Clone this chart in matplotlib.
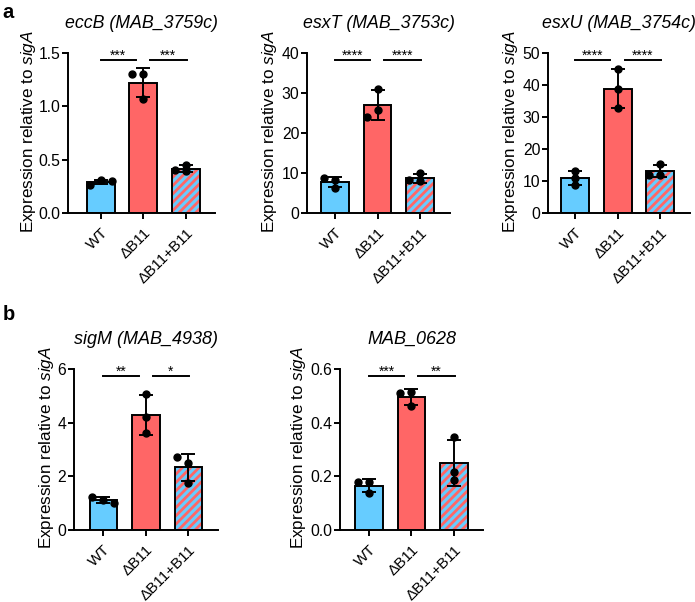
import matplotlib
matplotlib.use("Agg")
import matplotlib.pyplot as plt
import numpy as np

plt.rcParams["font.family"] = ["Liberation Sans", "DejaVu Sans"]
plt.rcParams["mathtext.fontset"] = "custom"
plt.rcParams["mathtext.it"] = "Liberation Sans:italic"
plt.rcParams["mathtext.rm"] = "Liberation Sans"
plt.rcParams["hatch.linewidth"] = 2.0

groups = ["WT", "ΔB11", "ΔB11+B11"]

# replicate values per gene (WT, ΔB11, ΔB11+B11)
eccb_wt = [0.31, 0.265, 0.296]
eccb_ko = [1.30, 1.065, 1.30]
eccb_comp = [0.39, 0.45, 0.40]

esxt_wt = [8.3, 6.2, 8.7]
esxt_ko = [25.7, 24.1, 31.1]
esxt_comp = [7.9, 10.0, 8.3]

esxu_wt = [10.9, 13.2, 8.7]
esxu_ko = [38.9, 44.9, 32.9]
esxu_comp = [11.9, 15.2, 11.9]

sigm_wt = [1.12, 1.22, 1.02]
sigm_ko = [4.20, 5.06, 3.60]
sigm_comp = [2.51, 1.76, 2.73]

mab0628_wt = [0.137, 0.18, 0.18]
mab0628_ko = [0.462, 0.516, 0.509]
mab0628_comp = [0.217, 0.348, 0.186]

titles = ["eccB (MAB_3759c)", "esxT (MAB_3753c)", "esxU (MAB_3754c)",
          "sigM (MAB_4938)", "MAB_0628"]
ymaxes = [1.5, 40, 50, 6, 0.6]
ysteps = [0.5, 10, 10, 2, 0.2]
tick_fmt = ["{:.1f}", "{:.0f}", "{:.0f}", "{:.0f}", "{:.1f}"]
stars = [("***", "***"), ("****", "****"), ("****", "****"), ("**", "*"), ("***", "**")]

panels = [
    (eccb_wt, eccb_ko, eccb_comp),
    (esxt_wt, esxt_ko, esxt_comp),
    (esxu_wt, esxu_ko, esxu_comp),
    (sigm_wt, sigm_ko, sigm_comp),
    (mab0628_wt, mab0628_ko, mab0628_comp),
]

BLUE = "#66CCFF"
RED = "#FF6666"
W, H = 695, 602

# axes boxes in pixels: left, right, top, bottom, xlim-left, ylabel gap
boxes = [
    (68, 215, 53, 213, -0.77, 29.5),
    (307, 450, 53, 213, -0.66, 28),
    (548, 690, 53, 213, -0.64, 28),
    (74, 218, 369, 530, -0.69, 18),
    (340, 483, 369, 530, -0.68, 32),
]


def swarm(values, ymax, step=0.26, gap=0.04):
    offsets = []
    for i, v in enumerate(values):
        for cand in (0, -step, step, -2 * step, 2 * step):
            clash = any(abs(v - values[j]) / ymax < gap and abs(cand - offsets[j]) < 1e-9
                        for j in range(i))
            if not clash:
                offsets.append(cand)
                break
    return np.array(offsets)


fig = plt.figure(figsize=(W / 100, H / 100), dpi=100)

for k, (data, box) in enumerate(zip(panels, boxes)):
    left, right, top, bottom, xl, lgap = box
    ax = fig.add_axes([left / W, 1 - bottom / H, (right - left) / W, (bottom - top) / H])
    x = np.arange(3)
    means = [np.mean(d) for d in data]
    sds = [np.std(d, ddof=1) for d in data]
    ymax = ymaxes[k]

    ax.bar(x[:2], means[:2], width=0.65, color=[BLUE, RED], edgecolor="black",
           linewidth=1.4, zorder=2)
    ax.bar(x[2], means[2], width=0.65, color=BLUE, edgecolor=RED, hatch="////",
           linewidth=0, zorder=2)
    ax.bar(x[2], means[2], width=0.65, color="none", edgecolor="black",
           linewidth=1.4, zorder=3)
    ax.errorbar(x, means, yerr=sds, fmt="none", ecolor="black", elinewidth=1.4,
                capsize=5, capthick=1.4, zorder=4)
    for i, d in enumerate(data):
        off = swarm(d, ymax)
        ax.plot(x[i] + off, d, "o", color="black", markersize=5, zorder=5,
                clip_on=False)

    # significance brackets
    ysig = 0.955 * ymax
    for (x0, x1), s in zip([(0, 0.83), (1.16, 2.02)], stars[k]):
        ax.plot([x0, x1], [ysig, ysig], color="black", linewidth=1.4, clip_on=False)
        ax.annotate(s, ((x0 + x1) / 2, ysig), xytext=(0, -2), textcoords="offset points",
                    ha="center", va="bottom", fontsize=10, annotation_clip=False)

    ax.set_xlim(xl, xl + (right - left) / 42.5)
    ax.set_ylim(0, ymax)
    yt = np.arange(0, ymax + ysteps[k] / 2, ysteps[k])
    ax.set_yticks(yt)
    ax.set_yticklabels([tick_fmt[k].format(t) for t in yt], fontsize=11.3)
    ax.set_xticks(x)
    ax.set_xticklabels(groups, rotation=45, ha="right", rotation_mode="anchor",
                       fontsize=11)
    ax.tick_params(direction="out", length=4, width=1.4)
    ax.tick_params(axis="y", pad=1.5)
    ax.tick_params(axis="x", pad=5)
    for side in ("top", "right"):
        ax.spines[side].set_visible(False)
    for side in ("left", "bottom"):
        ax.spines[side].set_linewidth(1.4)
    ax.set_ylabel("Expression relative to $\\it{sigA}$", fontsize=12.3)
    ax.yaxis.set_label_coords(-lgap / (right - left), 0.51)
    ax.set_title(titles[k], fontsize=12.8 if k < 3 else 13, style="italic", pad=18)

fig.text(0.004, 0.995, "a", fontsize=14.5, fontweight="bold", va="top")
fig.text(0.004, 1 - 305 / H, "b", fontsize=14.5, fontweight="bold", va="top")

fig.savefig("out.png", dpi=100)
